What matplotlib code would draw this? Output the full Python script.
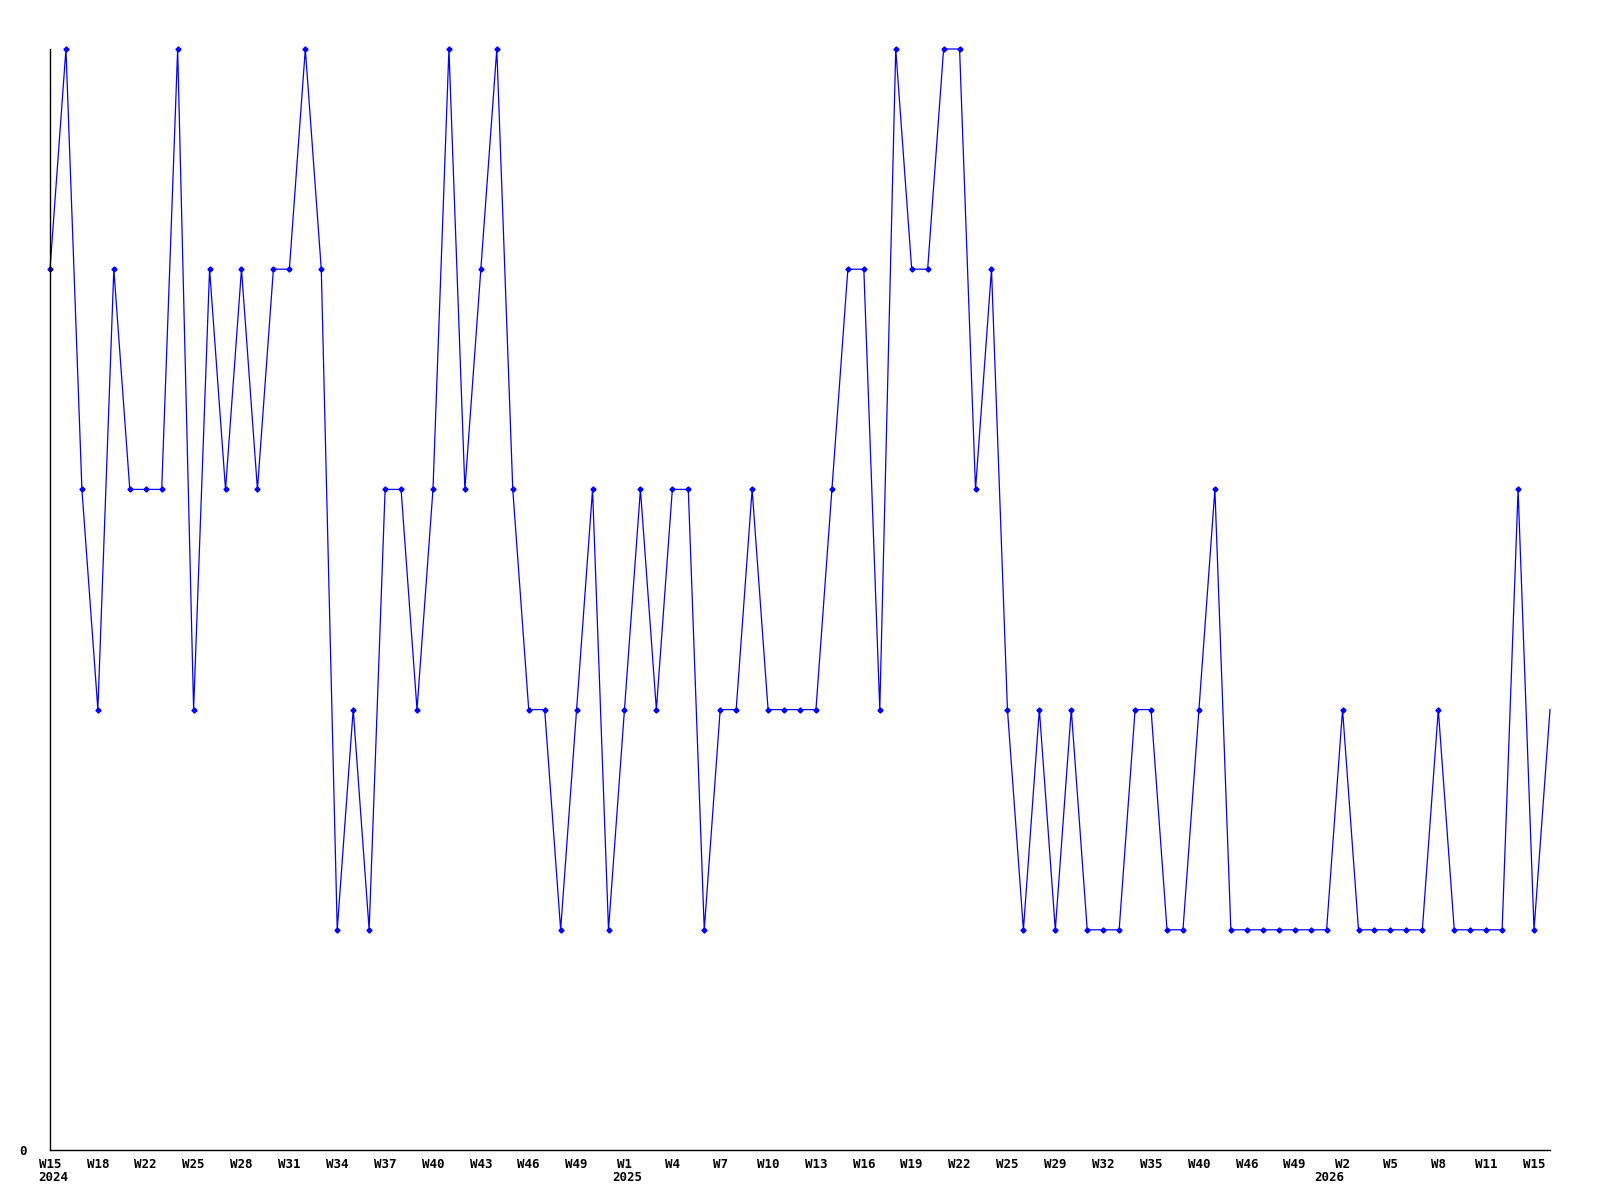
import numpy as np
import matplotlib
matplotlib.use("Agg")
import matplotlib.pyplot as plt

# ----------------------- data ---------------------------------------------- #
# weekly values, one per point (95 weeks, some weeks missing in the source)
values = [4, 5, 3, 2, 4, 3, 3, 3, 5, 2,
          4, 3, 4, 3, 4, 4, 5, 4, 1, 2,
          1, 3, 3, 2, 3, 5, 3, 4, 5, 3,
          2, 2, 1, 2, 3, 1, 2, 3, 2, 3,
          3, 1, 2, 2, 3, 2, 2, 2, 2, 3,
          4, 4, 2, 5, 4, 4, 5, 5, 3, 4,
          2, 1, 2, 1, 2, 1, 1, 1, 2, 2,
          1, 1, 2, 3, 1, 1, 1, 1, 1, 1,
          1, 2, 1, 1, 1, 1, 1, 2, 1, 1,
          1, 1, 3, 1, 2]

# labels shown on every 3rd point
tick_labels = ["W15", "W18", "W22", "W25", "W28", "W31", "W34", "W37",
               "W40", "W43", "W46", "W49", "W1", "W4", "W7", "W10",
               "W13", "W16", "W19", "W22", "W25", "W29", "W32", "W35",
               "W40", "W46", "W49", "W2", "W5", "W8", "W11", "W15"]

# year markers: (point index where the year starts, year)
year_marks = [(0, "2024"), (36, "2025"), (80, "2026")]

#-----------------------------------------------------------------------------#

font = dict(family="DejaVu Sans Mono", weight="bold", size=9)

fig = plt.figure(figsize=(16, 12), dpi=100)
ax = fig.add_axes([50 / 1600, 50 / 1200, 1500 / 1600, 1101 / 1200])

x = np.arange(len(values))
ax.plot(x, values, color="#0000ff", lw=0.9, clip_on=False)
ax.plot(x[:-1], values[:-1], ls="none", marker="D", ms=2.6,
        color="#0000ff", clip_on=False)

ax.set_xlim(0, len(values) - 1)
ax.set_ylim(0, 5)

# axes look
for side in ["top", "right"]:
    ax.spines[side].set_visible(False)
ax.spines["left"].set_linewidth(1.0)
ax.spines["bottom"].set_linewidth(1.0)

tick_pos = np.arange(0, len(values), 3)[:len(tick_labels)]
ax.set_xticks(tick_pos)
ax.set_xticklabels(tick_labels, **font)
ax.tick_params(axis="x", length=0, pad=6)

ax.set_yticks([0])
ax.set_yticklabels(["0"], **font)
ax.tick_params(axis="y", length=0, pad=17)

# year labels under the first week of each year
for i, year in year_marks:
    ax.annotate(year, xy=(i, 0), xycoords="data",
                xytext=(2, -15), textcoords="offset points",
                ha="center", va="top", annotation_clip=False, **font)

fig.savefig("out.png", dpi=100, facecolor="white")
